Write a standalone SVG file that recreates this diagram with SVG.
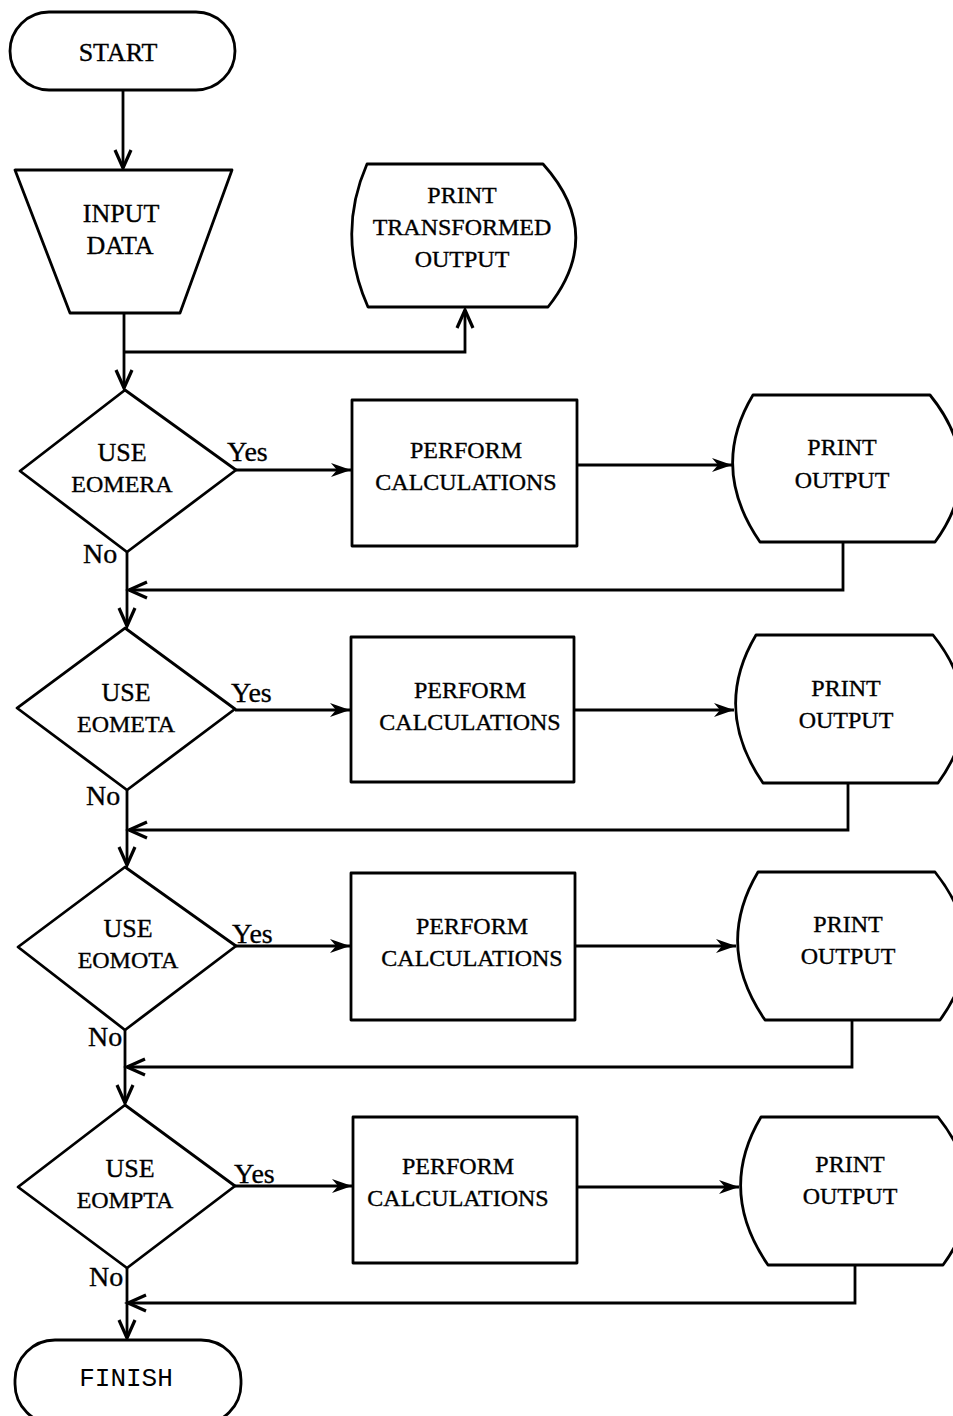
<svg xmlns="http://www.w3.org/2000/svg" width="953" height="1416" viewBox="0 0 953 1416">
<style>
.s{fill:#fff;stroke:#000;stroke-width:2.8;stroke-linejoin:round}
.c{fill:none;stroke:#000;stroke-width:2.8}
.t{font-family:"Liberation Serif",serif;font-size:24px;fill:#000;stroke:#000;stroke-width:0.35;text-anchor:middle}
.b{font-size:26px}
.l{font-family:"Liberation Serif",serif;font-size:28px;fill:#000;stroke:#000;stroke-width:0.35}
.m{font-family:"Liberation Mono",monospace;font-size:26px;fill:#000;text-anchor:middle}
</style>
<defs>
<marker id="v" markerUnits="userSpaceOnUse" markerWidth="24" markerHeight="24" refX="20" refY="10" orient="auto" viewBox="0 0 24 20">
<path d="M2,2 L20,10 L2,18" fill="none" stroke="#000" stroke-width="3.2"/>
</marker>
<marker id="f" markerUnits="userSpaceOnUse" markerWidth="22" markerHeight="16" refX="20" refY="8" orient="auto" viewBox="0 0 22 16">
<path d="M0,1 L20,8 L0,15 L6,8 Z" fill="#000"/>
</marker>
</defs>
<g id="connectors">
<path class="c" d="M123,90 V168" marker-end="url(#v)"/>
<path class="c" d="M124,313 V388" marker-end="url(#v)"/>
<path class="c" d="M124,352 H465 V310" marker-end="url(#v)"/>
<path class="c" d="M236,470 H351" marker-end="url(#f)"/>
<path class="c" d="M577,465 H732" marker-end="url(#f)"/>
<path class="c" d="M843,542 V590 H129" marker-end="url(#v)"/>
<path class="c" d="M127,552 V626" marker-end="url(#v)"/>
<path class="c" d="M235,710 H350" marker-end="url(#f)"/>
<path class="c" d="M574,710 H734" marker-end="url(#f)"/>
<path class="c" d="M848,783 V830 H129" marker-end="url(#v)"/>
<path class="c" d="M127,790 V865" marker-end="url(#v)"/>
<path class="c" d="M236,946 H350" marker-end="url(#f)"/>
<path class="c" d="M575,946 H736" marker-end="url(#f)"/>
<path class="c" d="M852,1020 V1067 H127" marker-end="url(#v)"/>
<path class="c" d="M125,1030 V1103" marker-end="url(#v)"/>
<path class="c" d="M235,1186 H352" marker-end="url(#f)"/>
<path class="c" d="M577,1187 H739" marker-end="url(#f)"/>
<path class="c" d="M855,1265 V1303 H128" marker-end="url(#v)"/>
<path class="c" d="M127,1268 V1338" marker-end="url(#v)"/>
</g>
<g id="start">
<rect class="s" x="10" y="12" width="225" height="78" rx="39" ry="39"/>
<text class="t b" x="118" y="61">START</text>
</g>
<g id="input">
<path class="s" d="M15,170 L232,170 L180,313 L70,313 Z"/>
<text class="t b" x="121" y="222">INPUT</text>
<text class="t b" x="120" y="254">DATA</text>
</g>
<g id="print-transformed">
<path class="s" d="M367,164 L543,164 Q606,234 548,307 L368,307 Q336,235 367,164 Z"/>
<text class="t" x="462" y="203">PRINT</text>
<text class="t" x="462" y="235">TRANSFORMED</text>
<text class="t" x="462" y="267">OUTPUT</text>
</g>
<g id="d1">
<path class="s" d="M125,390 L236,470 L127,552 L20,471 Z"/>
<text class="t b" x="122" y="461">USE</text>
<text class="t" x="122" y="492">EOMERA</text>
<text class="l" x="227" y="461">Yes</text>
<text class="l" x="83" y="563">No</text>
</g>
<g id="p1">
<rect class="s" x="352" y="400" width="225" height="146"/>
<text class="t" x="466" y="458">PERFORM</text>
<text class="t" x="466" y="490">CALCULATIONS</text>
</g>
<g id="o1">
<path class="s" d="M753,395 L930,395 Q989,468 935,542 L760,542 Q709,468 753,395 Z"/>
<text class="t" x="842" y="455">PRINT</text>
<text class="t" x="842" y="488">OUTPUT</text>
</g>
<g id="d2">
<path class="s" d="M125,628 L235,709 L127,790 L17,708 Z"/>
<text class="t b" x="126" y="701">USE</text>
<text class="t" x="126" y="732">EOMETA</text>
<text class="l" x="231" y="702">Yes</text>
<text class="l" x="86" y="805">No</text>
</g>
<g id="p2">
<rect class="s" x="351" y="637" width="223" height="145"/>
<text class="t" x="470" y="698">PERFORM</text>
<text class="t" x="470" y="730">CALCULATIONS</text>
</g>
<g id="o2">
<path class="s" d="M756,635 L933,635 Q992,709 938,783 L763,783 Q712,709 756,635 Z"/>
<text class="t" x="846" y="696">PRINT</text>
<text class="t" x="846" y="728">OUTPUT</text>
</g>
<g id="d3">
<path class="s" d="M125,867 L236,946 L125,1030 L18,947 Z"/>
<text class="t b" x="128" y="937">USE</text>
<text class="t" x="128" y="968">EOMOTA</text>
<text class="l" x="232" y="943">Yes</text>
<text class="l" x="88" y="1046">No</text>
</g>
<g id="p3">
<rect class="s" x="351" y="873" width="224" height="147"/>
<text class="t" x="472" y="934">PERFORM</text>
<text class="t" x="472" y="966">CALCULATIONS</text>
</g>
<g id="o3">
<path class="s" d="M758,872 L935,872 Q994,946 940,1020 L765,1020 Q714,946 758,872 Z"/>
<text class="t" x="848" y="932">PRINT</text>
<text class="t" x="848" y="964">OUTPUT</text>
</g>
<g id="d4">
<path class="s" d="M125,1105 L235,1186 L127,1268 L18,1187 Z"/>
<text class="t b" x="130" y="1177">USE</text>
<text class="t" x="125" y="1208">EOMPTA</text>
<text class="l" x="234" y="1183">Yes</text>
<text class="l" x="89" y="1286">No</text>
</g>
<g id="p4">
<rect class="s" x="353" y="1117" width="224" height="146"/>
<text class="t" x="458" y="1174">PERFORM</text>
<text class="t" x="458" y="1206">CALCULATIONS</text>
</g>
<g id="o4">
<path class="s" d="M761,1117 L938,1117 Q997,1191 943,1265 L768,1265 Q717,1191 761,1117 Z"/>
<text class="t" x="850" y="1172">PRINT</text>
<text class="t" x="850" y="1204">OUTPUT</text>
</g>
<g id="finish">
<rect class="s" x="15" y="1340" width="226" height="84" rx="40" ry="40"/>
<text class="m" x="126" y="1386">FINISH</text>
</g>
</svg>
